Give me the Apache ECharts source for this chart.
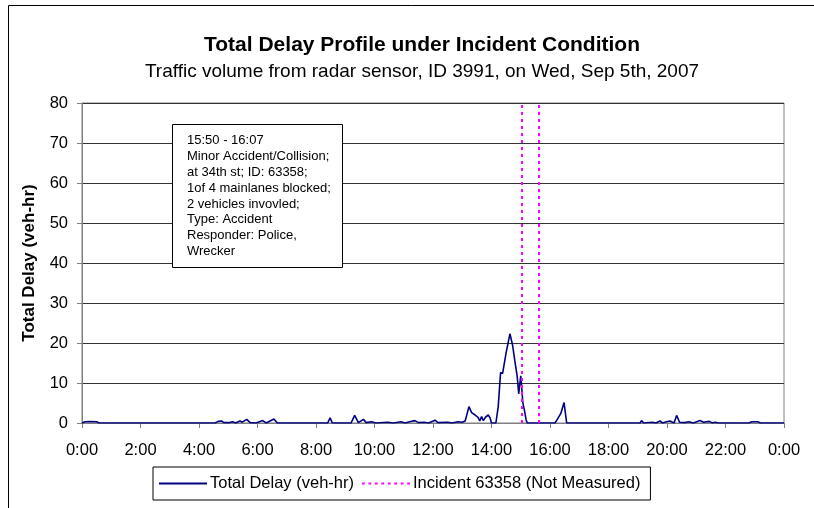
<!DOCTYPE html>
<html>
<head>
<meta charset="utf-8">
<title>Total Delay Profile under Incident Condition</title>
<script src="https://cdn.jsdelivr.net/npm/echarts@6/dist/echarts.min.js"></script>
<style>
  html, body { margin: 0; padding: 0; background: #ffffff; }
  #chart { width: 814px; height: 508px; }
</style>
</head>
<body>
<div id="chart"></div>
<script>
// Time of day (decimal hours) for each delay sample
const timeHours = [
  0.00, 0.10, 0.27, 0.50, 0.58, 0.64, 0.72,
  4.55, 4.66, 4.77, 4.85, 5.05, 5.15, 5.25, 5.40, 5.48, 5.63, 5.75, 5.95,
  6.18, 6.30, 6.56, 6.68,
  8.40, 8.48, 8.56,
  9.20, 9.32, 9.45, 9.62, 9.72, 9.90, 10.05,
  10.45, 10.65, 10.90, 11.05, 11.20, 11.38, 11.50, 11.70, 11.85,
  12.07, 12.17, 12.50, 12.65, 12.85, 13.00, 13.10,
  13.23, 13.32, 13.44, 13.54, 13.60, 13.66, 13.72, 13.80, 13.89, 13.95, 14.00,
  14.15, 14.23, 14.31, 14.38, 14.50, 14.56, 14.63, 14.72, 14.80, 14.88, 14.93,
  15.00, 15.03, 15.07, 15.12, 15.18, 15.22,
  16.17, 16.25, 16.37, 16.48, 16.57,
  19.08, 19.13, 19.20, 19.50, 19.62, 19.76, 19.85, 19.98, 20.10, 20.16, 20.24,
  20.33, 20.43, 20.60, 20.75, 20.90, 21.13, 21.25, 21.45, 21.55, 21.65, 21.75,
  22.80, 22.90, 23.10, 23.20, 23.65, 23.70, 23.78, 24.00
];

// Total delay (veh-hr) at each sample time
const totalDelay = [
  0.0, 0.3, 0.35, 0.3, 0.0, 0.25, 0.0,
  0.0, 0.4, 0.5, 0.1, 0.1, 0.3, 0.0, 0.5, 0.2, 0.9, 0.1, 0.0,
  0.6, 0.0, 1.0, 0.0,
  0.0, 1.3, 0.0,
  0.0, 1.9, 0.1, 0.9, 0.1, 0.3, 0.0,
  0.2, 0.0, 0.3, 0.0, 0.3, 0.6, 0.1, 0.2, 0.0,
  0.7, 0.1, 0.2, 0.0, 0.3, 0.2, 0.5,
  4.1, 2.6, 2.0, 1.4, 0.5, 1.6, 0.6, 1.5, 2.0, 1.3, 0.0,
  0.0, 4.1, 12.6, 12.4, 17.6, 18.0, 22.3, 19.5, 15.4, 11.6, 7.3,
  11.8, 9.2, 5.1, 3.4, 0.9, 0.0,
  0.0, 0.9, 2.4, 5.1, 0.0,
  0.0, 0.6, 0.0, 0.2, 0.0, 0.5, 0.0, 0.3, 0.5, 0.7, 0.0,
  1.9, 0.2, 0.1, 0.3, 0.0, 0.6, 0.2, 0.4, 0.0, 0.2, 0.0,
  0.0, 0.3, 0.3, 0.0, 0.0, 0.3, 0.0, 0.0
];

// Incident boundaries (decimal hours)
const incidentHours = [15.03, 15.62];

// Axis tick labels
const hourLabels = ['0:00', '2:00', '4:00', '6:00', '8:00', '10:00', '12:00',
  '14:00', '16:00', '18:00', '20:00', '22:00', '0:00'];
const delayTicks = [0, 10, 20, 30, 40, 50, 60, 70, 80];

// Incident description lines
const incidentNote = [
  '15:50 - 16:07',
  'Minor Accident/Collision;',
  'at 34th st; ID: 63358;',
  '1of 4 mainlanes blocked;',
  '2 vehicles invovled;',
  'Type: Accident',
  'Responder: Police,',
  'Wrecker'
];

const FONT = '"Liberation Sans", Arial, sans-serif';
const chart = echarts.init(document.getElementById('chart'), null, { renderer: 'canvas' });

const delayData = timeHours.map((t, i) => [t, totalDelay[i]]);

// Legend keys: a plain solid stroke and a row of short dashes
const solidKey = 'path://M0,0H48V2H0Z';
const dottedKey = 'path://M0,0H3V2H0Z M7,0H10V2H7Z M14,0H17V2H14Z M21,0H24V2H21Z M28,0H31V2H28Z M35,0H38V2H35Z M42,0H45V2H42Z M49,0H52V2H49Z';

chart.setOption({
  animation: false,
  backgroundColor: '#ffffff',
  textStyle: { fontFamily: FONT, color: '#000' },
  title: {
    text: 'Total Delay Profile under Incident Condition',
    subtext: 'Traffic volume from radar sensor, ID 3991, on Wed, Sep 5th, 2007',
    left: 417,
    top: 30,
    textAlign: 'center',
    itemGap: 6,
    textStyle: { fontFamily: FONT, fontSize: 21, fontWeight: 'bold', color: '#000' },
    subtextStyle: { fontFamily: FONT, fontSize: 19, color: '#000' }
  },
  grid: {
    left: 82, right: 30, top: 103, bottom: 85,
    show: true, borderColor: '#808080', borderWidth: 1
  },
  xAxis: {
    type: 'value',
    min: 0, max: 24, interval: 2,
    axisLine: { show: true, lineStyle: { color: '#808080', width: 1 } },
    axisTick: { show: true, length: 5, lineStyle: { color: '#808080' } },
    axisLabel: {
      margin: 19, fontSize: 16.5, fontFamily: FONT, color: '#000',
      formatter: v => hourLabels[Math.round(v / 2)]
    },
    splitLine: { show: false }
  },
  yAxis: {
    type: 'value',
    min: delayTicks[0], max: delayTicks[delayTicks.length - 1], interval: 10,
    name: 'Total Delay (veh-hr)',
    nameLocation: 'middle',
    nameGap: 44,
    nameTextStyle: { fontFamily: FONT, fontSize: 17, fontWeight: 'bold', color: '#000' },
    axisLine: { show: true, lineStyle: { color: '#808080', width: 1 } },
    axisTick: { show: true, length: 5, lineStyle: { color: '#808080' } },
    axisLabel: { margin: 14, fontSize: 16.5, fontFamily: FONT, color: '#000' },
    splitLine: { show: true, lineStyle: { color: '#333333', width: 1 } }
  },
  legend: {
    left: 153, top: 467,
    padding: [8, 10, 8, 6],
    itemGap: 8,
    itemWidth: 48, itemHeight: 14,
    borderColor: '#000', borderWidth: 1, borderRadius: 0,
    backgroundColor: '#fff',
    textStyle: { fontFamily: FONT, fontSize: 16.5, color: '#000', padding: [0, 0, 0, -2] },
    data: [
      { name: 'Total Delay (veh-hr)', icon: solidKey, itemStyle: { color: '#000080' } },
      { name: 'Incident 63358 (Not Measured)', icon: dottedKey, itemStyle: { color: '#ff00ff' } }
    ]
  },
  series: [
    {
      name: 'Total Delay (veh-hr)',
      type: 'line',
      data: delayData,
      symbol: 'none',
      lineStyle: { color: '#000080', width: 1.6 },
      itemStyle: { color: '#000080' },
      z: 3
    },
    {
      name: 'Incident 63358 (Not Measured)',
      type: 'line',
      data: [],
      symbol: 'none',
      lineStyle: { color: '#ff00ff', width: 2, type: [3, 4] },
      itemStyle: { color: '#ff00ff' },
      markLine: {
        silent: true,
        symbol: ['none', 'none'],
        label: { show: false },
        lineStyle: { color: '#ff00ff', width: 2, type: [3, 4] },
        data: incidentHours.map(h => ({ xAxis: h }))
      },
      z: 4
    }
  ],
  graphic: [
    {
      type: 'rect',
      z: 100,
      shape: { x: 8.5, y: 5.5, width: 1000, height: 1000 },
      style: { fill: null, stroke: '#000', lineWidth: 1 },
      silent: true
    },
    {
      type: 'rect',
      z: 100,
      shape: { x: 172.5, y: 124.5, width: 170, height: 143 },
      style: { fill: '#ffffff', stroke: '#000', lineWidth: 1 }
    },
    {
      type: 'text',
      z: 101,
      x: 187, y: 133,
      style: {
        text: incidentNote.join('\n'),
        font: '13px ' + FONT,
        fill: '#000',
        lineHeight: 15.8,
        verticalAlign: 'top',
        align: 'left'
      }
    }
  ]
});
</script>
</body>
</html>
